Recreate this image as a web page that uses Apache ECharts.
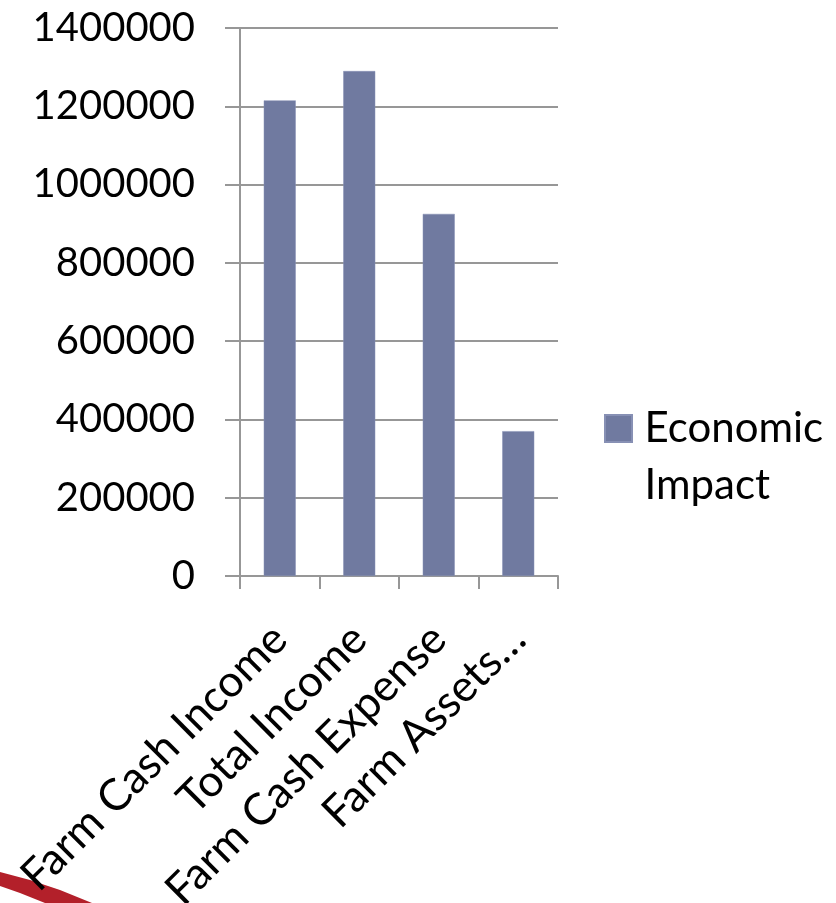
<!DOCTYPE html>
<html>
<head>
<meta charset="utf-8">
<script src="https://cdn.jsdelivr.net/npm/echarts@6/dist/echarts.min.js"></script>
<style>
  html, body { margin: 0; padding: 0; background: #fff; }
  #chart { width: 836px; height: 903px; }
</style>
</head>
<body>
<div id="chart"></div>
<script>
const categories = ['Farm Cash Income', 'Total Income', 'Farm Cash Expense', 'Farm Assets…'];
const impactValues = [1215000, 1290000, 925000, 370000];
const seriesName = 'Economic\nImpact';

const font = 'Lato';
const lineColor = '#979797';

const chart = echarts.init(document.getElementById('chart'));

chart.setOption({
  backgroundColor: '#fff',
  animation: false,
  grid: {
    left: 240,
    right: 278,
    top: 28,
    bottom: 327,
    outerBoundsMode: 'none'
  },
  legend: {
    orient: 'vertical',
    left: 599,
    top: 338,
    itemWidth: 42,
    itemHeight: 27,
    icon: 'path://M0,0h10v10h-10z',
    symbolKeepAspect: true,
    data: [seriesName],
    // leading blank line keeps the swatch level with the first line
    formatter: name => '\n' + name,
    textStyle: {
      fontFamily: font,
      fontSize: 42,
      color: '#000',
      lineHeight: 57
    }
  },
  xAxis: {
    type: 'category',
    data: categories,
    axisLine: { lineStyle: { color: lineColor, width: 2 } },
    axisTick: { show: true, length: 13, lineStyle: { color: lineColor, width: 2 } },
    axisLabel: {
      rotate: 45,
      interval: 0,
      margin: 56,
      fontFamily: font,
      fontSize: 44,
      color: '#000'
    }
  },
  yAxis: {
    type: 'value',
    min: 0,
    max: 1400000,
    interval: 200000,
    axisLine: { show: true, lineStyle: { color: lineColor, width: 2 } },
    axisTick: { show: true, length: 15, lineStyle: { color: lineColor, width: 2 } },
    splitLine: { lineStyle: { color: lineColor, width: 2 } },
    axisLabel: {
      margin: 45,
      formatter: v => String(v),
      fontFamily: font,
      fontSize: 40,
      color: '#000'
    }
  },
  series: [
    {
      name: seriesName,
      type: 'bar',
      data: impactValues,
      barWidth: 32,
      itemStyle: {
        color: '#707aa0',
        borderColor: '#8790b4',
        borderWidth: 0.5
      }
    }
  ],
  graphic: [
    {
      // red swoosh in the lower-left corner
      type: 'polygon',
      shape: {
        points: [[0, 872], [30, 880], [60, 890], [92, 903], [45, 903], [20, 893], [0, 886]]
      },
      style: { fill: '#b3202a' }
    }
  ]
});
</script>
</body>
</html>
